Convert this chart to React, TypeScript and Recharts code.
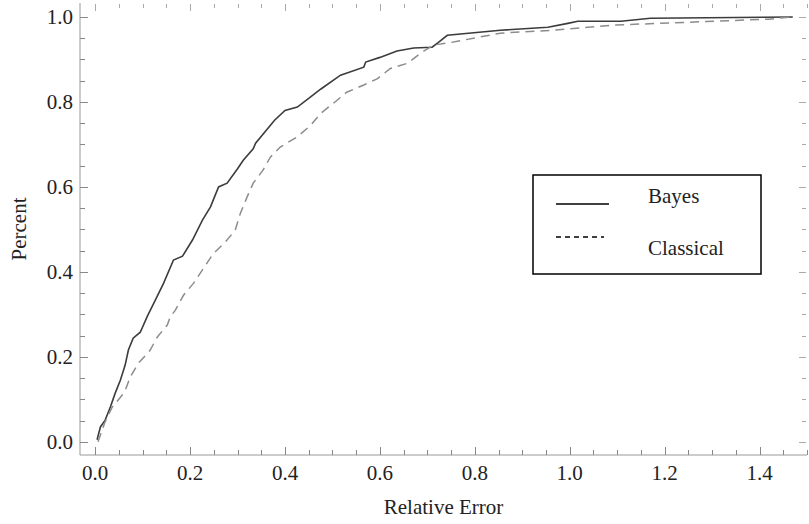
import { LineChart, Line, XAxis, YAxis, Legend } from "recharts"

const bayesX = [0.004, 0.011, 0.021, 0.032, 0.042, 0.053, 0.063, 0.07, 0.08, 0.095, 0.11, 0.127, 0.144, 0.165, 0.184, 0.205, 0.226, 0.243, 0.26, 0.278, 0.3, 0.312, 0.333, 0.338, 0.378, 0.4, 0.426, 0.454, 0.475, 0.517, 0.566, 0.57, 0.6, 0.636, 0.671, 0.71, 0.724, 0.742, 0.854, 0.954, 0.996, 1.017, 1.108, 1.17, 1.47]
const bayesY = [0.005, 0.035, 0.051, 0.082, 0.114, 0.145, 0.18, 0.216, 0.244, 0.258, 0.296, 0.334, 0.373, 0.428, 0.437, 0.475, 0.522, 0.553, 0.6, 0.609, 0.643, 0.663, 0.69, 0.703, 0.757, 0.78, 0.788, 0.812, 0.83, 0.863, 0.882, 0.894, 0.905, 0.92, 0.927, 0.929, 0.941, 0.957, 0.969, 0.976, 0.985, 0.99, 0.99, 0.997, 1.0]

const classicalX = [0.006, 0.02, 0.036, 0.057, 0.063, 0.074, 0.091, 0.116, 0.131, 0.152, 0.158, 0.169, 0.186, 0.207, 0.228, 0.249, 0.274, 0.295, 0.306, 0.32, 0.333, 0.354, 0.369, 0.39, 0.426, 0.454, 0.475, 0.502, 0.53, 0.566, 0.595, 0.622, 0.658, 0.686, 0.713, 0.749, 0.854, 0.966, 1.038, 1.093, 1.418, 1.47]
const classicalY = [0.0, 0.045, 0.082, 0.11, 0.12, 0.153, 0.185, 0.216, 0.247, 0.275, 0.294, 0.31, 0.345, 0.373, 0.408, 0.443, 0.47, 0.498, 0.538, 0.576, 0.609, 0.64, 0.67, 0.694, 0.718, 0.745, 0.773, 0.797, 0.823, 0.84, 0.855, 0.879, 0.891, 0.915, 0.934, 0.94, 0.962, 0.969, 0.976, 0.981, 0.995, 1.0]

const xTicks = [0, 0.05, 0.1, 0.15, 0.2, 0.25, 0.3, 0.35, 0.4, 0.45, 0.5, 0.55, 0.6, 0.65, 0.7, 0.75, 0.8, 0.85, 0.9, 0.95, 1.0, 1.05, 1.1, 1.15, 1.2, 1.25, 1.3, 1.35, 1.4, 1.45, 1.5]
const xLabels = [0, 0.2, 0.4, 0.6, 0.8, 1.0, 1.2, 1.4]
const yTicks = [0, 0.05, 0.1, 0.15, 0.2, 0.25, 0.3, 0.35, 0.4, 0.45, 0.5, 0.55, 0.6, 0.65, 0.7, 0.75, 0.8, 0.85, 0.9, 0.95, 1.0]
const yLabels = [0, 0.2, 0.4, 0.6, 0.8, 1.0]

const bayes = bayesX.map((x, i) => ({ x, y: bayesY[i] }))
const classical = classicalX.map((x, i) => ({ x, y: classicalY[i] }))

const W = 809
const H = 524
const MARGIN = { top: 3, right: 2, bottom: 0, left: 0 }
const Y_AXIS_W = 80
const X_AXIS_H = 69
// plot box size, used to mirror the ticks onto the top and right of the frame
const PLOT_W = W - MARGIN.left - MARGIN.right - Y_AXIS_W
const PLOT_H = H - MARGIN.top - MARGIN.bottom - X_AXIS_H

const FONT = '"Liberation Serif", "Times New Roman", serif'
const FS = 21
const isMajor = (v: number, list: number[]) => list.some(l => Math.abs(l - v) < 1e-6)
const px = (v: any) => Math.round(Number(v)) + 0.5

const BottomTick = ({ x, y, payload }: any) => {
  const major = isMajor(payload.value, xLabels)
  const cx = px(x)
  const ny = Number(y)
  const len = major ? 8 : 5
  return (
    <g>
      <line x1={cx} x2={cx} y1={ny} y2={ny - len} stroke="#888" strokeWidth={1} />
      <line x1={cx} x2={cx} y1={ny - PLOT_H + 1} y2={ny - PLOT_H + len} stroke="#aaa" strokeWidth={1} />
      {major && (
        <text x={x} y={ny + 25} textAnchor="middle" fontSize={FS} fontFamily={FONT} fill="#222">
          {payload.value.toFixed(1)}
        </text>
      )}
    </g>
  )
}

const LeftTick = ({ x, y, payload }: any) => {
  const major = isMajor(payload.value, yLabels)
  const cy = px(y)
  const nx = Number(x)
  const len = major ? 8 : 5
  return (
    <g>
      <line x1={nx} x2={nx + len} y1={cy} y2={cy} stroke="#888" strokeWidth={1} />
      <line x1={nx + PLOT_W - 1} x2={nx + PLOT_W - len} y1={cy} y2={cy} stroke="#aaa" strokeWidth={1} />
      {major && (
        <text x={nx - 7} y={Number(y) + 7} textAnchor="end" fontSize={FS} fontFamily={FONT} fill="#222">
          {payload.value.toFixed(1)}
        </text>
      )}
    </g>
  )
}

const dashes = ["", "5 4"]

const renderLegend = (props: any) => {
  const items = props.payload || []
  return (
    <svg width={230} height={101} style={{ display: "block" }}>
      <rect x={1} y={1} width={228} height={99} fill="#fff" stroke="#000" strokeWidth={1.5} />
      {items.map((entry: any, i: number) => (
        <g key={entry.value}>
          <line x1={24} x2={i === 0 ? 77 : 72} y1={30 + i * 33} y2={30 + i * 33} stroke="#000" strokeWidth={1.5} strokeDasharray={dashes[i]} />
          <text x={116} y={29 + i * 52} fontSize={FS} fontFamily={FONT} fill="#222">{entry.value}</text>
        </g>
      ))}
    </svg>
  )
}

export default function App() {
  return (
    <div style={{ position: "absolute", left: 0, top: 0, background: "#fff" }}>
      <LineChart width={W} height={H} margin={MARGIN}>
        <XAxis
          type="number"
          dataKey="x"
          domain={[-0.032, 1.5]}
          ticks={xTicks}
          interval={0}
          allowDataOverflow
          height={X_AXIS_H}
          tickSize={0}
          tickMargin={0}
          tickLine={false}
          tick={<BottomTick />}
          axisLine={{ stroke: "#999" }}
          label={(p: any) => (
            <text x={p.viewBox.x + p.viewBox.width / 2} y={p.viewBox.y + 59} textAnchor="middle" fontSize={FS} fontFamily={FONT} fill="#222">
              Relative Error
            </text>
          )}
        />
        <YAxis
          type="number"
          domain={[-0.031, 1.033]}
          ticks={yTicks}
          interval={0}
          allowDataOverflow
          width={Y_AXIS_W}
          tickSize={0}
          tickMargin={0}
          tickLine={false}
          tick={<LeftTick />}
          axisLine={{ stroke: "#999" }}
          label={(p: any) => (
            <text
              x={26}
              y={p.viewBox.y + p.viewBox.height / 2}
              transform={`rotate(-90 26 ${p.viewBox.y + p.viewBox.height / 2})`}
              textAnchor="middle"
              fontSize={FS}
              fontFamily={FONT}
              fill="#222"
            >
              Percent
            </text>
          )}
        />
        <Legend
          layout="vertical"
          align="center"
          verticalAlign="middle"
          wrapperStyle={{ left: 532, top: 174, width: 230, height: 101 }}
          content={renderLegend}
        />
        <Line
          data={bayes}
          dataKey="y"
          name="Bayes"
          type="linear"
          stroke="#3c3c3c"
          strokeWidth={1.6}
          dot={false}
          isAnimationActive={false}
        />
        <Line
          data={classical}
          dataKey="y"
          name="Classical"
          type="linear"
          stroke="#8c8c8c"
          strokeWidth={1.5}
          strokeDasharray="9 6"
          dot={false}
          isAnimationActive={false}
        />
      </LineChart>
    </div>
  )
}
